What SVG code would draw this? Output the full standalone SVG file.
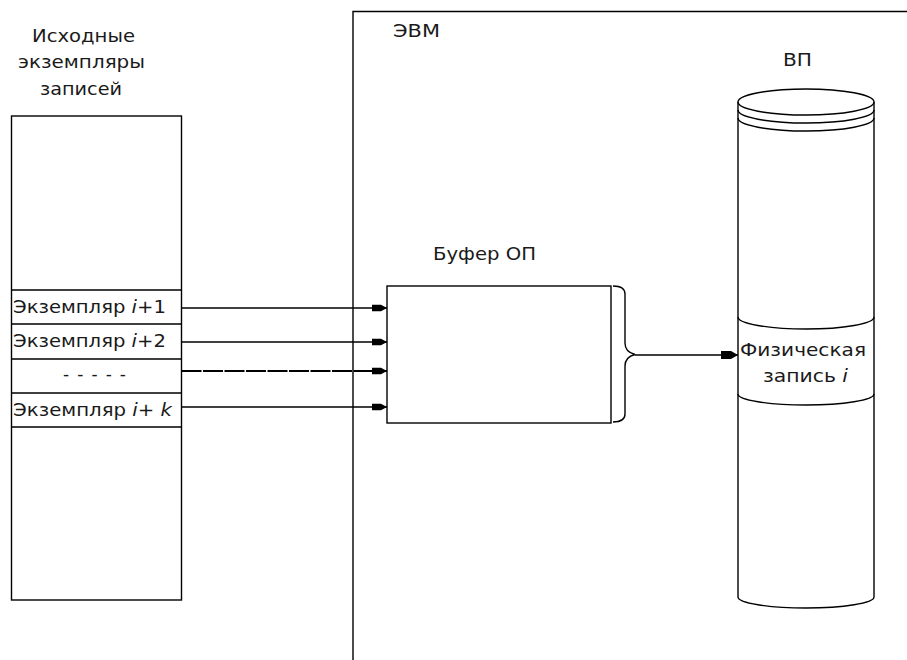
<svg xmlns="http://www.w3.org/2000/svg" width="907" height="660" viewBox="0 0 907 660">
<style>
.ln{fill:none;stroke:#000;stroke-width:1.4}
.bx{fill:#fff;stroke:#000;stroke-width:1.4}
text{font-family:"DejaVu Sans","Liberation Sans",Arial,sans-serif;font-size:17px;fill:#1a1a1a}
</style>
<defs>
<marker id="ah" markerUnits="userSpaceOnUse" markerWidth="16" markerHeight="10" refX="15" refY="5" orient="auto">
<path d="M0,1.8 H9 L15,5 L9,8.2 H0 Z" fill="#000"/>
</marker>
<marker id="ah2" markerUnits="userSpaceOnUse" markerWidth="18" markerHeight="10" refX="17" refY="5" orient="auto">
<path d="M0,1 H10 L17,5 L10,9 H0 Z" fill="#000"/>
</marker>
</defs>
<rect width="907" height="660" fill="#fff"/>
<g id="evm">
<path class="ln" d="M353,660 V11.5 H907"/>
<text x="393" y="37" textLength="47" lengthAdjust="spacingAndGlyphs">ЭВМ</text>
</g>
<g id="source">
<text x="32" y="42" textLength="103" lengthAdjust="spacingAndGlyphs">Исходные</text>
<text x="18" y="68" textLength="127" lengthAdjust="spacingAndGlyphs">экземпляры</text>
<text x="40" y="95" textLength="82" lengthAdjust="spacingAndGlyphs">записей</text>
<rect class="bx" x="11.5" y="116" width="170" height="484"/>
<path class="ln" d="M11.5,290 H181.5 M11.5,324 H181.5 M11.5,359 H181.5 M11.5,393 H181.5 M11.5,427 H181.5"/>
<text x="13" y="313" textLength="153" lengthAdjust="spacingAndGlyphs">Экземпляр <tspan font-style="italic">i</tspan>+1</text>
<text x="13" y="347" textLength="153" lengthAdjust="spacingAndGlyphs">Экземпляр <tspan font-style="italic">i</tspan>+2</text>
<text x="63" y="380" textLength="63" lengthAdjust="spacing">- - - - -</text>
<text x="13" y="416" textLength="159" lengthAdjust="spacingAndGlyphs">Экземпляр <tspan font-style="italic">i</tspan>+ <tspan font-style="italic">k</tspan></text>
</g>
<g id="buffer">
<text x="433" y="260" textLength="103" lengthAdjust="spacingAndGlyphs">Буфер ОП</text>
<rect class="bx" x="387" y="286" width="224" height="137"/>
<path class="ln" d="M613,286 Q625,286 625,294 V343 Q625,352 635,354.5 Q625,357 625,366 V414 Q625,422 613,422"/>
</g>
<g id="vp">
<text x="783" y="66" textLength="29" lengthAdjust="spacingAndGlyphs">ВП</text>
<path class="bx" d="M738,102 V597 A68,11 0 0 0 874,597 V102"/>
<ellipse class="ln" cx="806" cy="102" rx="68" ry="13"/>
<path class="ln" d="M738,110 A68,13 0 0 0 874,110 M738,118 A68,13 0 0 0 874,118"/>
<path class="ln" d="M738,317 A68,12 0 0 0 874,317 M738,394 A68,11 0 0 0 874,394"/>
<text x="740" y="356" textLength="126" lengthAdjust="spacingAndGlyphs">Физическая</text>
<text x="763" y="382" textLength="85" lengthAdjust="spacingAndGlyphs">запись <tspan font-style="italic">i</tspan></text>
</g>
<g id="connectors">
<path class="ln" d="M181.5,308 H387" marker-end="url(#ah)"/>
<path class="ln" d="M181.5,342 H387" marker-end="url(#ah)"/>
<path fill="none" stroke="#000" stroke-width="2.2" stroke-dasharray="20 1.5" d="M181.5,371 H387" marker-end="url(#ah)"/>
<path class="ln" d="M181.5,407 H387" marker-end="url(#ah)"/>
<path class="ln" d="M635,355 H738" marker-end="url(#ah2)"/>
</g>
</svg>
